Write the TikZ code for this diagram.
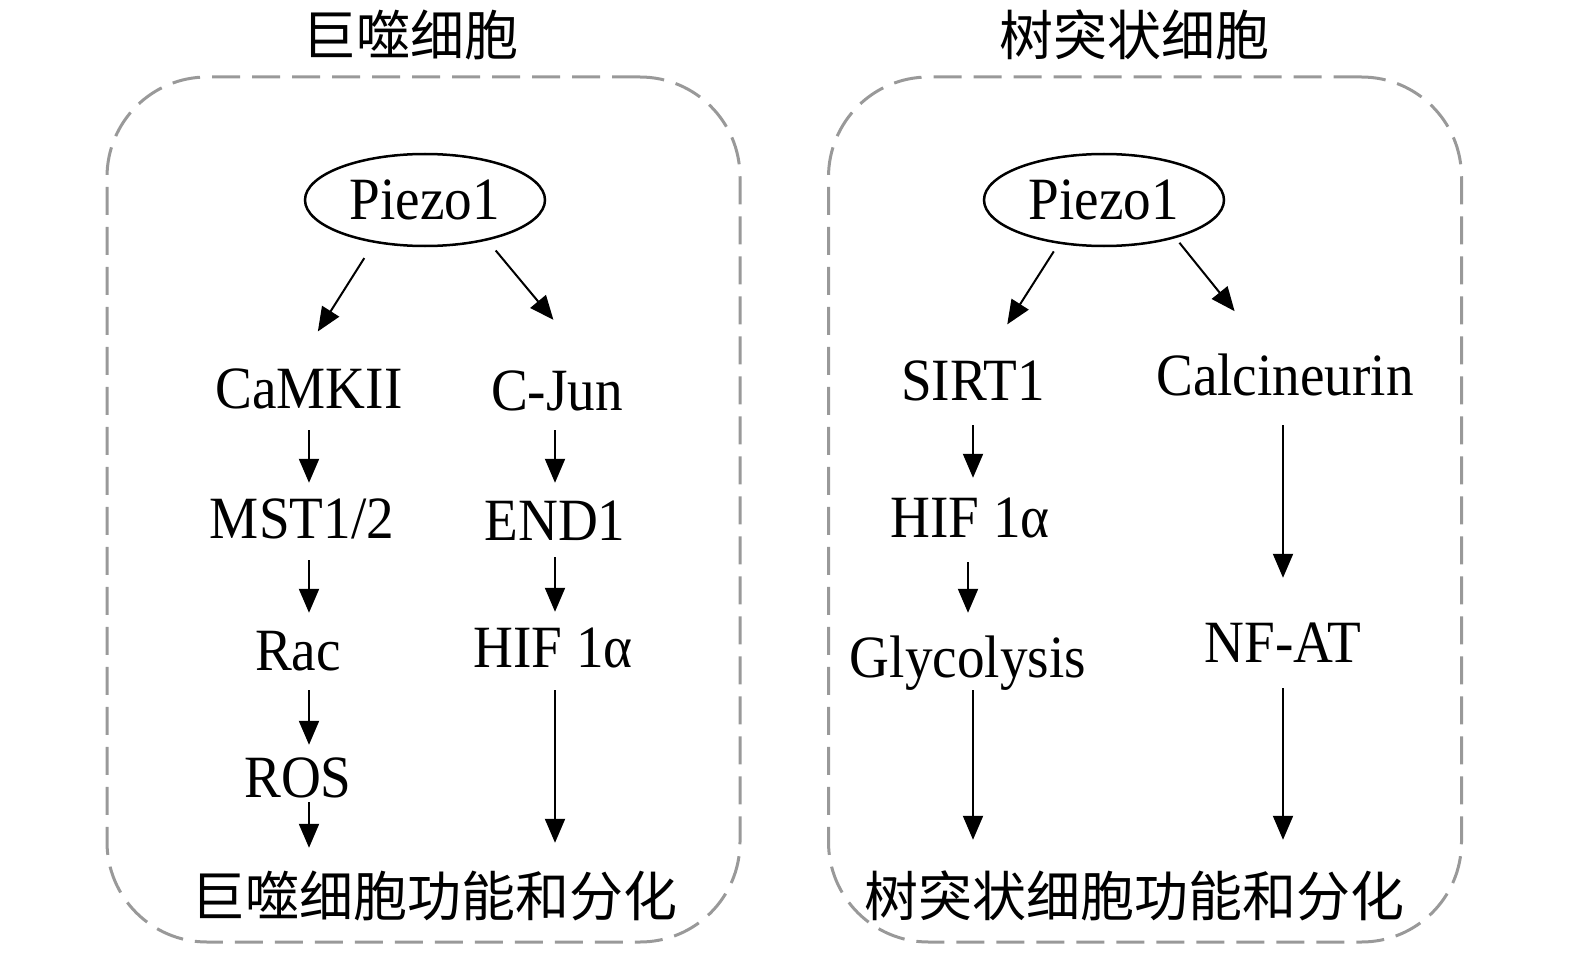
\documentclass[tikz,border=0pt]{standalone}
\usepackage{fontspec}
\usetikzlibrary{arrows.meta,shapes.geometric}
\setmainfont{Liberation Serif}[FakeStretch=0.92]
\newfontfamily\cjk{Noto Sans CJK SC}
\definecolor{gray}{rgb}{0.6,0.6,0.6}

\begin{document}
\begin{tikzpicture}[x=1pt, y=-1pt, cell/.style = {shape=rectangle, draw=gray, line width=3pt, rounded corners=100pt, dash pattern=on 28pt off 12pt, minimum width=633pt, minimum height=865pt}, ell/.style = {shape=ellipse, draw, line width=2.5pt, inner sep=0pt, minimum width=240pt, minimum height=92pt, font=\fontsize{60}{66}\selectfont}, lbl/.style = {inner sep=0pt, text height=40pt, text depth=0pt, font=\fontsize{60}{66}\selectfont}, zh/.style = {inner sep=0pt, text height=46pt, text depth=4pt, font=\cjk\fontsize{54}{60}\selectfont}, flow/.style = {-{Triangle[length=24pt, width=20pt]}, line width=2pt, shorten <=22pt, shorten >=17pt}]
	\useasboundingbox (0,0) rectangle (1575,955);
	\node[cell] (mbox) at (423.5,509.5) {};
	\node[cell] (dbox) at (1145,509.5) {};
	\node[zh] (mtitle) at (410,35) {巨噬细胞};
	\node[zh] (dtitle) at (1134,35) {树突状细胞};
	\node[ell] (mpiezo) at (425,200) {Piezo1};
	\node[ell] (dpiezo) at (1104,200) {Piezo1};
	\node[lbl] (camkii) at (309,388) {CaMKII};
	\node[lbl] (mst) at (302,518) {MST1/2};
	\node[lbl] (rac) at (298,650) {Rac};
	\node[lbl] (ros) at (298,777) {ROS};
	\node[lbl] (cjun) at (557,390) {C-Jun};
	\node[lbl] (end1) at (555,520) {END1};
	\node[lbl] (mhif) at (553,647) {HIF 1α};
	\node[zh] (mfun) at (434,895) {巨噬细胞功能和分化};
	\node[lbl] (sirt) at (973,380) {SIRT1};
	\node[lbl] (dhif) at (970,517) {HIF 1α};
	\node[lbl] (glyc) at (968,657) {Glycolysis};
	\node[lbl] (calc) at (1285,375) {Calcineurin};
	\node[lbl] (nfat) at (1283,642) {NF-AT};
	\node[zh] (dfun) at (1134,895) {树突状细胞功能和分化};
	\draw[flow, shorten <=18pt, shorten >=43pt] (mpiezo.220) -- (camkii.125);
	\draw[flow, shorten <=13pt, shorten >=65pt] (mpiezo.-33) -- (cjun.28);
	\draw[flow, shorten >=15pt] (camkii.south) -- (camkii.south |- mst.north);
	\draw[flow] (mst.south -| camkii.south) -- (camkii.south |- rac.north);
	\draw[flow, shorten <=20pt, shorten >=12pt] (rac.south -| camkii.south) -- (camkii.south |- ros.north);
	\draw[flow, shorten <=5pt, shorten >=22pt] (ros.south -| camkii.south) -- (camkii.south |- mfun.north);
	\draw[flow, shorten <=20pt] (cjun.south -| end1) -- (end1.north);
	\draw[flow, shorten <=17pt, shorten >=15pt] (end1.south) -- (end1.south |- mhif.north);
	\draw[flow, shorten <=23pt, shorten >=27pt] (mhif.south -| end1) -- (end1.south |- mfun.north);
	\draw[flow, shorten <=9pt, shorten >=42pt] (dpiezo.224) -- (sirt.60);
	\draw[flow, shorten <=6pt, shorten >=56pt] (dpiezo.-28) -- (calc.127);
	\draw[flow, shorten <=25pt, shorten >=19pt] (sirt.south) -- (sirt.south |- dhif.north);
	\draw[flow, shorten <=25pt, shorten >=24pt] (dhif.south -| glyc) -- (glyc.north);
	\draw[flow, shorten <=13pt, shorten >=30pt] (glyc.south -| sirt) -- (sirt.south |- dfun.north);
	\draw[flow, shorten <=30pt, shorten >=44pt] (calc.south -| nfat) -- (nfat.north -| nfat);
	\draw[flow, shorten <=26pt, shorten >=30pt] (nfat.south) -- (nfat.south |- dfun.north);
\end{tikzpicture}
\end{document}
